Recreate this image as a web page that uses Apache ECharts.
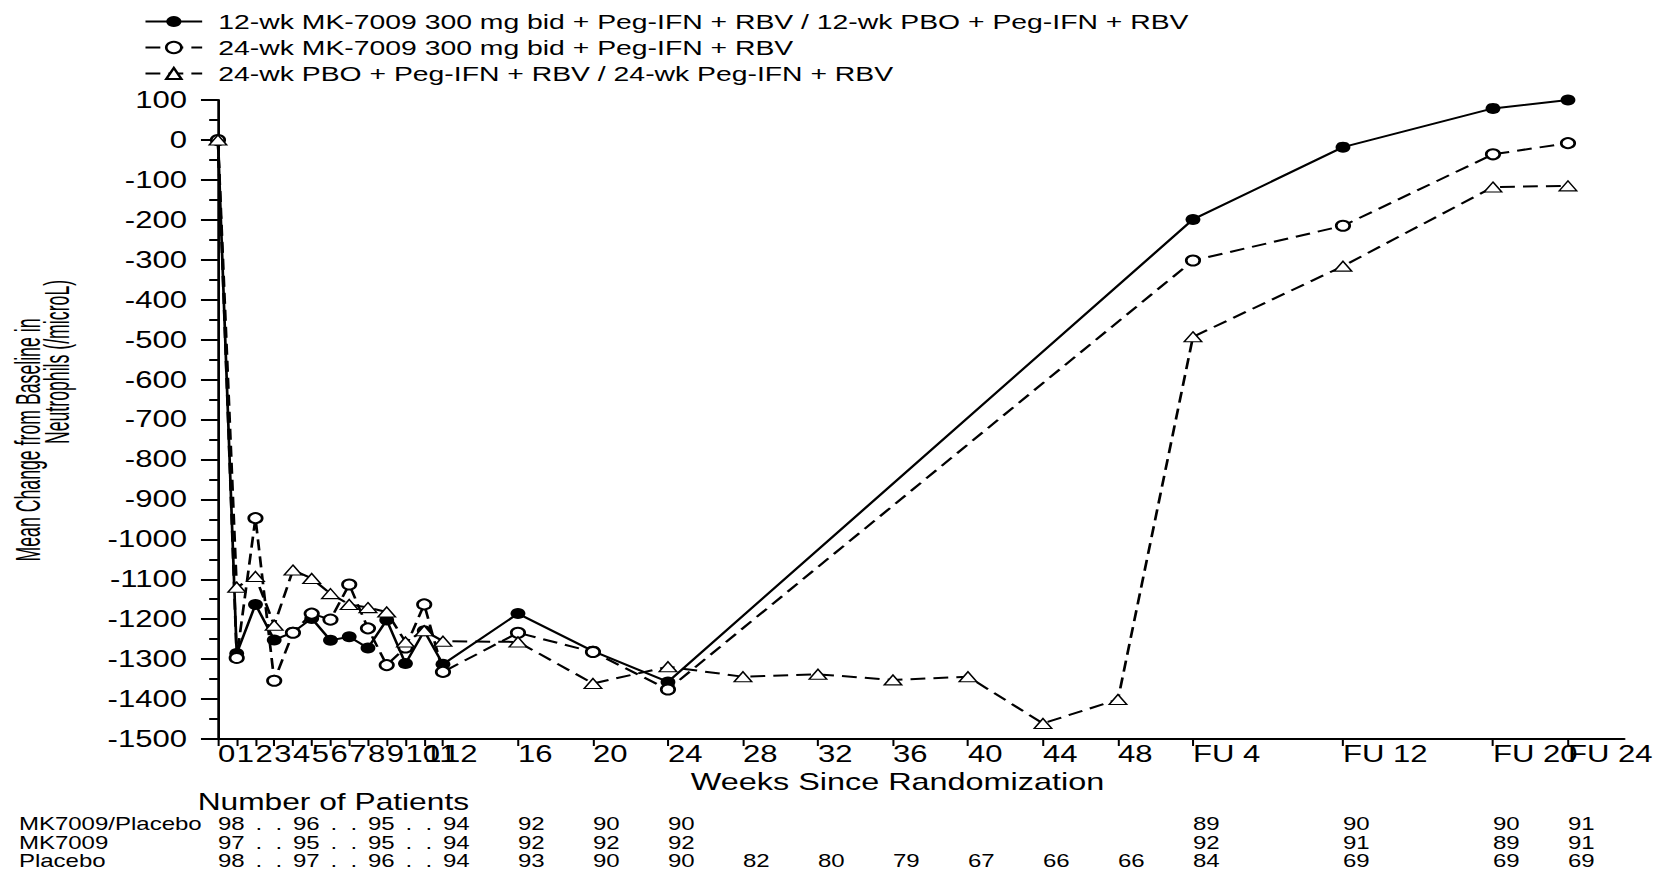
<!DOCTYPE html>
<html><head><meta charset="utf-8">
<script src="https://cdn.jsdelivr.net/npm/echarts@6/dist/echarts.min.js"></script>
<style>
html,body{margin:0;padding:0;background:#fff;overflow:hidden}
#wrap{width:1660px;height:874px;overflow:hidden;position:relative;background:#fff}
#chart{width:1230px;height:874px;transform:scaleX(1.349593);transform-origin:0 0}
</style></head>
<body><div id="wrap"><div id="chart"></div></div>
<script>
// ---------- data ----------
const seriesNames = [
  '12-wk MK-7009 300 mg bid + Peg-IFN + RBV / 12-wk PBO + Peg-IFN + RBV',
  '24-wk MK-7009 300 mg bid + Peg-IFN + RBV',
  '24-wk PBO + Peg-IFN + RBV / 24-wk Peg-IFN + RBV'
];
// axis positions (weeks; follow-up visits placed after week 48)
const xTickValues = [0,1,2,3,4,5,6,7,8,9,10,11,12,16,20,24,28,32,36,40,44,48,52,60,68,72];
const xTickLabels = ['0','1','2','3','4','5','6','7','8','9','10','11','12','16','20','24','28','32','36','40','44','48','FU 4','FU 12','FU 20','FU 24'];

const weeksAB = [0,1,2,3,4,5,6,7,8,9,10,11,12,16,20,24,52,60,68,72];
const valuesA = [0,-1286,-1163,-1252,-1233,-1198,-1253,-1244,-1272,-1202,-1311,-1229,-1313,-1186,-1280,-1357,-199,-18,79,100];
const valuesB = [0,-1297,-947,-1354,-1234,-1186,-1201,-1113,-1223,-1315,-1271,-1163,-1332,-1234,-1282,-1376,-302,-215,-36,-8];

const weeksC = [0,1,2,3,4,5,6,7,8,9,10,11,12,16,20,24,28,32,36,40,44,48,52,60,68,72];
const valuesC = [0,-1120,-1093,-1215,-1077,-1098,-1136,-1163,-1171,-1182,-1257,-1229,-1255,-1257,-1361,-1319,-1344,-1338,-1352,-1344,-1461,-1401,-493,-316,-118,-115];

// number of patients table
const tableTitle = 'Number of Patients';
const rowLabels = ['MK7009/Placebo','MK7009','Placebo'];
const patientWeeks = [0,4,8,12,16,20,24,28,32,36,40,44,48,52,60,68,72];
const patientsA = [98,96,95,94,92,90,90,null,null,null,null,null,null,89,90,90,91];
const patientsB = [97,95,95,94,92,92,92,null,null,null,null,null,null,92,91,89,91];
const patientsC = [98,97,96,94,93,90,90,82,80,79,67,66,66,84,69,69,69];
const dottedUntil = 12; // entries up to this week are joined by ". ."

const xTitle = 'Weeks Since Randomization';
const yTitle1 = 'Mean Change from Baseline in';
const yTitle2 = 'Neutrophils (/microL)';

// ---------- chart ----------
const FONT = '"Liberation Sans", Arial, sans-serif';
const chart = echarts.init(document.getElementById('chart'), null, {renderer: 'svg'});
const zip = (xs, ys) => xs.map((x, i) => [x, ys[i]]);
const labelMap = {};
xTickValues.forEach((v, i) => labelMap[v] = xTickLabels[i]);
const lastTick = xTickValues[xTickValues.length - 1];
const mainLabelValues = xTickValues.filter(v => v !== lastTick);

const xLabelStyle = {
  formatter: v => labelMap[v] ?? '',
  align: 'left', verticalAlign: 'top', margin: 3,
  showMinLabel: true, showMaxLabel: true, hideOverlap: false,
  fontFamily: FONT, fontSize: 23, color: '#000'
};

const option = {
  animation: false,
  backgroundColor: '#fff',
  legend: {
    orient: 'vertical', left: 106.8, top: 11, padding: 0,
    itemWidth: 42, itemHeight: 14, itemGap: 5,
    textStyle: {fontFamily: FONT, fontSize: 21, color: '#000', lineHeight: 21, padding: [0, 0, 0, 7]},
    data: seriesNames
  },
  grid: {left: 161.5, right: 26.5, top: 100, bottom: 135, containLabel: false},
  xAxis: [
    {
      type: 'value', min: 0, max: 75, position: 'bottom',
      splitLine: {show: false},
      axisLine: {onZero: false, lineStyle: {color: '#000', width: 2}},
      axisTick: {show: true, customValues: xTickValues, length: 7, lineStyle: {color: '#000', width: 1.5}},
      axisLabel: Object.assign({customValues: mainLabelValues}, xLabelStyle)
    },
    {
      // carries the last visit label only, so the overlapping "FU 20"/"FU 24" pair both stay visible
      type: 'value', min: 0, max: 75, position: 'bottom', gridIndex: 0,
      splitLine: {show: false},
      axisLine: {show: false, onZero: false},
      axisTick: {show: false},
      axisLabel: Object.assign({customValues: [lastTick]}, xLabelStyle)
    }
  ],
  yAxis: {
    type: 'value', min: -1500, max: 100, interval: 100,
    splitLine: {show: false},
    axisLine: {show: true, lineStyle: {color: '#000', width: 2}},
    axisTick: {show: true, length: 12.6, lineStyle: {color: '#000', width: 2}},
    minorTick: {show: true, splitNumber: 2, length: 6.5, lineStyle: {color: '#000', width: 2}},
    axisLabel: {fontFamily: FONT, fontSize: 23, color: '#000', margin: 23, formatter: v => String(v)}
  },
  series: [
    {
      name: seriesNames[0], type: 'line', data: zip(weeksAB, valuesA),
      symbol: 'circle', symbolSize: 11,
      lineStyle: {color: '#000', width: 2, type: 'solid'},
      itemStyle: {color: '#000', borderColor: '#000', borderWidth: 0}
    },
    {
      name: seriesNames[1], type: 'line', data: zip(weeksAB, valuesB),
      symbol: 'circle', symbolSize: 10,
      lineStyle: {color: '#000', width: 2, type: [11, 6]},
      itemStyle: {color: '#fff', borderColor: '#000', borderWidth: 2}
    },
    {
      name: seriesNames[2], type: 'line', data: zip(weeksC, valuesC),
      symbol: 'triangle', symbolSize: [13, 10],
      lineStyle: {color: '#000', width: 2, type: [11, 6]},
      itemStyle: {color: '#fff', borderColor: '#000', borderWidth: 1.2}
    }
  ]
};
chart.setOption(option);

// ---------- titles & patient table (positioned through the x scale) ----------
const px = w => chart.convertToPixel({xAxisIndex: 0}, w);
const g = [];
const txt = (text, x, y, size, extra) => Object.assign({
  type: 'text', x, y, silent: true,
  style: {text, fontFamily: FONT, fontSize: size, fill: '#000', align: 'left', verticalAlign: 'middle'}
}, extra || {});

// y-axis title (two rotated, condensed lines)
g.push({type: 'text', x: 21, y: 440, rotation: Math.PI / 2, scaleY: 1.45, silent: true,
  style: {text: yTitle1, fontFamily: FONT, fontSize: 17.7, fill: '#000', align: 'center', verticalAlign: 'middle'}});
g.push({type: 'text', x: 42, y: 362, rotation: Math.PI / 2, scaleY: 1.45, silent: true,
  style: {text: yTitle2, fontFamily: FONT, fontSize: 17.7, fill: '#000', align: 'center', verticalAlign: 'middle'}});

// x-axis title
const xt = txt(xTitle, 665, 782, 24); xt.style.align = 'center'; g.push(xt);
// table title
const tt = txt(tableTitle, 247, 802, 23.5); tt.style.align = 'center'; g.push(tt);

const rowsY = [824, 843, 861];
const rowsData = [patientsA, patientsB, patientsC];
const numSize = 17.8;
rowsData.forEach((row, r) => {
  g.push(txt(rowLabels[r], 14, rowsY[r], numSize));
  row.forEach((n, i) => {
    if (n == null) return;
    g.push(txt(String(n), px(patientWeeks[i]), rowsY[r], numSize));
    if (patientWeeks[i] < dottedUntil && i + 1 < row.length) {
      const a = px(patientWeeks[i]) + String(n).length * 0.556 * numSize;
      const b = px(patientWeeks[i + 1]);
      const d = txt('.  .', (a + b) / 2, rowsY[r], numSize);
      d.style.align = 'center';
      g.push(d);
    }
  });
});
chart.setOption({graphic: {elements: g}});
</script>
</body></html>
